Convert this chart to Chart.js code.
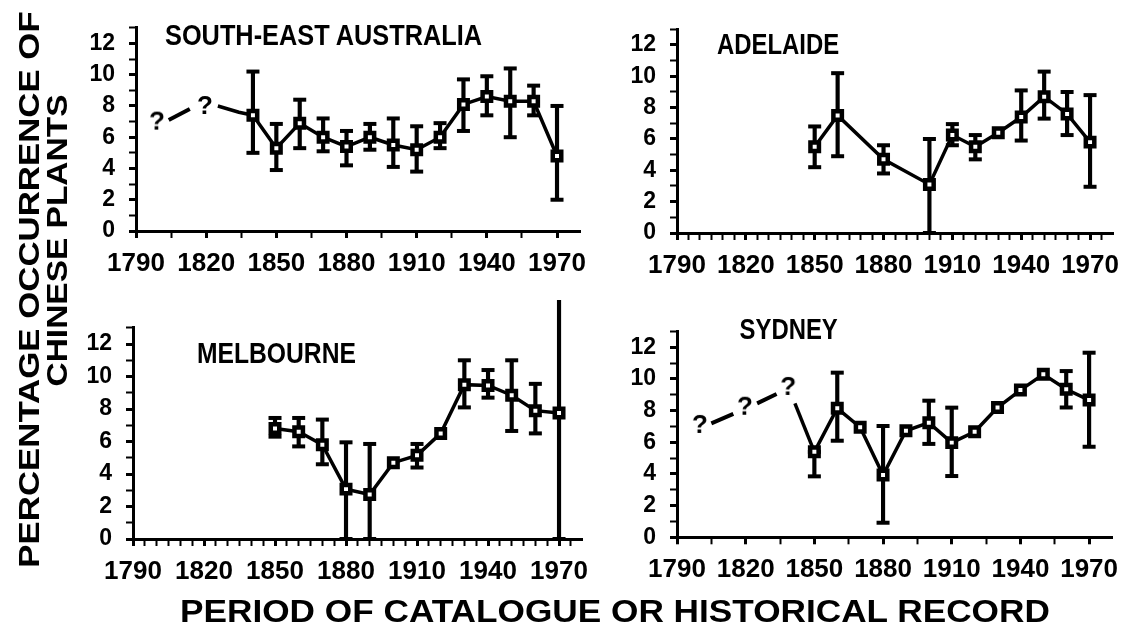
<!DOCTYPE html>
<html><head><meta charset="utf-8">
<script src="https://cdn.jsdelivr.net/npm/chart.js@4"></script>
<style>
html,body{margin:0;padding:0;background:#fff;}
body{width:1130px;height:629px;position:relative;overflow:hidden;}
canvas{position:absolute;}
.t{position:absolute;white-space:nowrap;font-family:"Liberation Sans",Arial,sans-serif;font-weight:bold;color:#000;line-height:1;}
</style></head><body>
<canvas id="c1"></canvas><canvas id="c2"></canvas><canvas id="c3"></canvas><canvas id="c4"></canvas>
<script>
// ---------- DATA ----------
const xTickLabels = [1790, 1820, 1850, 1880, 1910, 1940, 1970];
const yTickLabels = [0, 2, 4, 6, 8, 10, 12];

// South-East Australia
const seaYears  = [1840, 1850, 1860, 1870, 1880, 1890, 1900, 1910, 1920, 1930, 1940, 1950, 1960, 1970];
const seaValues = [7.4, 5.3, 6.9, 6.0, 5.4, 6.0, 5.5, 5.2, 6.0, 8.1, 8.6, 8.3, 8.3, 4.8];
const seaLow    = [5.0, 3.9, 5.3, 5.1, 4.2, 5.2, 4.1, 3.8, 5.3, 6.4, 7.4, 6.0, 7.4, 2.0];
const seaHigh   = [10.2, 6.85, 8.4, 7.2, 6.4, 6.85, 7.2, 6.7, 6.9, 9.7, 9.9, 10.4, 9.3, 8.0];
const seaDashX  = [1804, 1813];
const seaDashY  = [7.1, 7.8];
const seaLinkX  = [1825, 1834, 1840];
const seaLinkY  = [8.0, 7.6, 7.4];
const seaQueryX = [1799, 1819.5];
const seaQueryY = [7.0, 8.0];

// Adelaide
const adlYears  = [1850, 1860, 1880, 1900, 1910, 1920, 1930, 1940, 1950, 1960, 1970];
const adlValues = [5.5, 7.5, 4.7, 3.1, 6.25, 5.5, 6.4, 7.4, 8.7, 7.6, 5.8];
const adlLow    = [4.2, 4.9, 3.8, 0.0, 5.6, 4.7, null, 5.9, 7.3, 6.25, 2.95];
const adlHigh   = [6.8, 10.2, 5.6, 6.0, 6.95, 6.25, null, 9.1, 10.3, 9.0, 8.8];

// Melbourne
const melYears  = [1850, 1860, 1870, 1880, 1890, 1900, 1910, 1920, 1930, 1940, 1950, 1960, 1970];
const melValues = [6.8, 6.6, 5.8, 3.07, 2.74, 4.7, 5.15, 6.5, 9.5, 9.45, 8.85, 7.9, 7.75];
const melLow    = [6.3, 5.7, 4.6, 0.0, 0.0, null, 4.4, null, 8.1, 8.7, 6.65, 6.5, 0.0];
const melHigh   = [7.45, 7.45, 7.35, 5.95, 5.85, null, 5.85, null, 11.0, 10.4, 11.0, 9.55, 15.1];

// Sydney
const sydYears  = [1850, 1860, 1870, 1880, 1890, 1900, 1910, 1920, 1930, 1940, 1950, 1960, 1970];
const sydValues = [5.4, 8.15, 6.95, 3.93, 6.73, 7.24, 5.98, 6.67, 8.2, 9.3, 10.3, 9.35, 8.67];
const sydLow    = [3.85, 6.1, null, 0.92, null, 5.9, 3.87, null, null, null, null, 8.2, 5.72];
const sydHigh   = [5.4, 10.4, null, 7.03, null, 8.63, 8.19, null, null, null, null, 10.5, 11.66];
const sydDashX  = [1805, 1814.6, null, 1825, 1833.5];
const sydDashY  = [7.2, 7.8, null, 8.46, 9.05];
const sydLinkX  = [1841.5, 1850];
const sydLinkY  = [8.46, 5.4];
const sydQueryX = [1800, 1819.7, 1838.6];
const sydQueryY = [7.1, 8.25, 9.5];

// ---------- RENDERING ----------
const FONT = '"Liberation Sans", Arial, sans-serif';
const qMark = document.createElement('canvas');
qMark.width = 20; qMark.height = 28;
(function(){const g=qMark.getContext('2d');g.font='bold 26px '+FONT;g.textAlign='center';g.textBaseline='middle';g.fillStyle='#000';g.fillText('?',10,15);})();

function pts(xs, ys){ return xs.map((x,i)=>({x: x===null?NaN:x, y: ys[i]===null?null:ys[i]})); }

function makePanel(id, geo, d){
  const cv = document.getElementById(id);
  cv.width = geo.w; cv.height = geo.h;
  cv.style.left = geo.left+'px'; cv.style.top = geo.top+'px';
  const stems = [], caps = [];
  d.years.forEach((x,i)=>{
    if (d.low[i]!==null && d.high[i]!==null){
      stems.push({x, y:[d.low[i], d.high[i]]});
      caps.push({x, y:d.low[i]}); caps.push({x, y:d.high[i]});
    }
  });
  const datasets = [
    {type:'line', data: pts(d.years, d.values), borderColor:'#000', borderWidth:3.5, tension:0,
     pointStyle:'rect', pointRadius:6, pointBorderWidth:4.5, pointBackgroundColor:'#fff', pointBorderColor:'#000', order:0, clip:false},
    {type:'bar', data: stems, backgroundColor:'#000', borderWidth:0, barThickness:3.5, order:3, clip:false},
    {type:'scatter', data: caps, showLine:false, pointStyle:'line', pointRadius:6.5, pointBorderWidth:4, borderColor:'#000', pointBorderColor:'#000', order:2, clip:false}
  ];
  if (d.dashX) datasets.push({type:'line', data: pts(d.dashX, d.dashY), borderColor:'#000', borderWidth:4, pointRadius:0, spanGaps:false, order:1, clip:false});
  if (d.linkX) datasets.push({type:'line', data: pts(d.linkX, d.linkY), borderColor:'#000', borderWidth:3.5, pointRadius:0, order:1, clip:false});
  if (d.qX) datasets.push({type:'scatter', data: pts(d.qX, d.qY), pointStyle:qMark, pointRadius:8, order:0, clip:false});

  const c = geo.chart;
  const padTop = c.top - geo.top, padRight = geo.left + geo.w - c.right;
  const yW = c.left - geo.left, xH = geo.top + geo.h - c.bottom;
  const tickW = (labels) => (ctx) => (ctx.tick && labels.includes(ctx.tick.value)) ? 3 : 2;
  new Chart(cv, {
    type:'line',
    data:{datasets},
    options:{
      responsive:false, animation:false, events:[],
      layout:{padding:{left:0, top:padTop, right:padRight, bottom:0}},
      plugins:{legend:{display:false}, tooltip:{enabled:false}, title:{display:false}},
      scales:{
        x:{type:'linear', min:1790, max:1980, offset:false,
           afterBuildTicks:(s)=>{ const t=[]; for(let v=1790; v<=1975; v+=geo.step) t.push({value:v}); s.ticks=t; },
           afterFit:(s)=>{ s.height = xH; },
           border:{display:true, color:'#000', width:3},
           grid:{display:true, drawOnChartArea:false, drawTicks:true, tickLength:7, tickColor:'#000', tickWidth:tickW(xTickLabels), offset:false},
           ticks:{autoSkip:false, maxRotation:0, minRotation:0, padding:10, color:'#000',
                  font:{family:FONT, weight:'bold', size:26},
                  callback:(v)=> xTickLabels.includes(v) ? String(v) : ''}},
        y:{type:'linear', min:0, max:13,
           afterFit:(s)=>{ s.width = yW; },
           border:{display:true, color:'#000', width:3},
           grid:{display:true, drawOnChartArea:false, drawTicks:true, tickLength:7, tickColor:'#000', tickWidth:tickW(yTickLabels)},
           ticks:{stepSize:1, autoSkip:false, padding:14, color:'#000',
                  font:{family:FONT, weight:'bold', size:23},
                  callback:(v)=> yTickLabels.includes(v) ? String(v) : ''}}
      }
    }
  });
}

makePanel('c1', {left:40, top:0, w:560, h:300, step:15, chart:{left:136, right:580.4, top:21.7, bottom:231}},
  {years:seaYears, values:seaValues, low:seaLow, high:seaHigh, dashX:seaDashX, dashY:seaDashY, linkX:seaLinkX, linkY:seaLinkY, qX:seaQueryX, qY:seaQueryY});
makePanel('c2', {left:600, top:0, w:530, h:300, step:5, chart:{left:677, right:1113, top:29.3, bottom:233}},
  {years:adlYears, values:adlValues, low:adlLow, high:adlHigh});
makePanel('c3', {left:40, top:300, w:560, h:300, step:5, chart:{left:133, right:582.7, top:327.1, bottom:539}},
  {years:melYears, values:melValues, low:melLow, high:melHigh});
makePanel('c4', {left:600, top:300, w:530, h:300, step:15, chart:{left:677, right:1112, top:331.5, bottom:537.3}},
  {years:sydYears, values:sydValues, low:sydLow, high:sydHigh, dashX:sydDashX, dashY:sydDashY, linkX:sydLinkX, linkY:sydLinkY, qX:sydQueryX, qY:sydQueryY});

// ---------- TEXT ----------
function addText(txt, cx, cy, width, size, rot){
  const el = document.createElement('div');
  el.className = 't'; el.textContent = txt;
  el.style.fontSize = size+'px';
  document.body.appendChild(el);
  const w = el.offsetWidth, h = el.offsetHeight;
  const sx = width / w;
  el.style.left = (cx - w/2)+'px'; el.style.top = (cy - h/2)+'px';
  el.style.transform = (rot ? 'rotate('+rot+'deg) ' : '') + 'scale('+sx+',1)';
}
addText('SOUTH-EAST AUSTRALIA', 323.5, 35, 317, 29, 0);
addText('ADELAIDE', 778, 44, 122, 29, 0);
addText('MELBOURNE', 276.5, 353, 159, 29, 0);
addText('SYDNEY', 788, 329, 98, 29, 0);
addText('PERCENTAGE OCCURRENCE OF', 30, 289, 557, 29, -90);
addText('CHINESE PLANTS', 57, 240, 292, 29, -90);
addText('PERIOD OF CATALOGUE OR HISTORICAL RECORD', 615, 611, 870, 31, 0);
</script>
</body></html>
